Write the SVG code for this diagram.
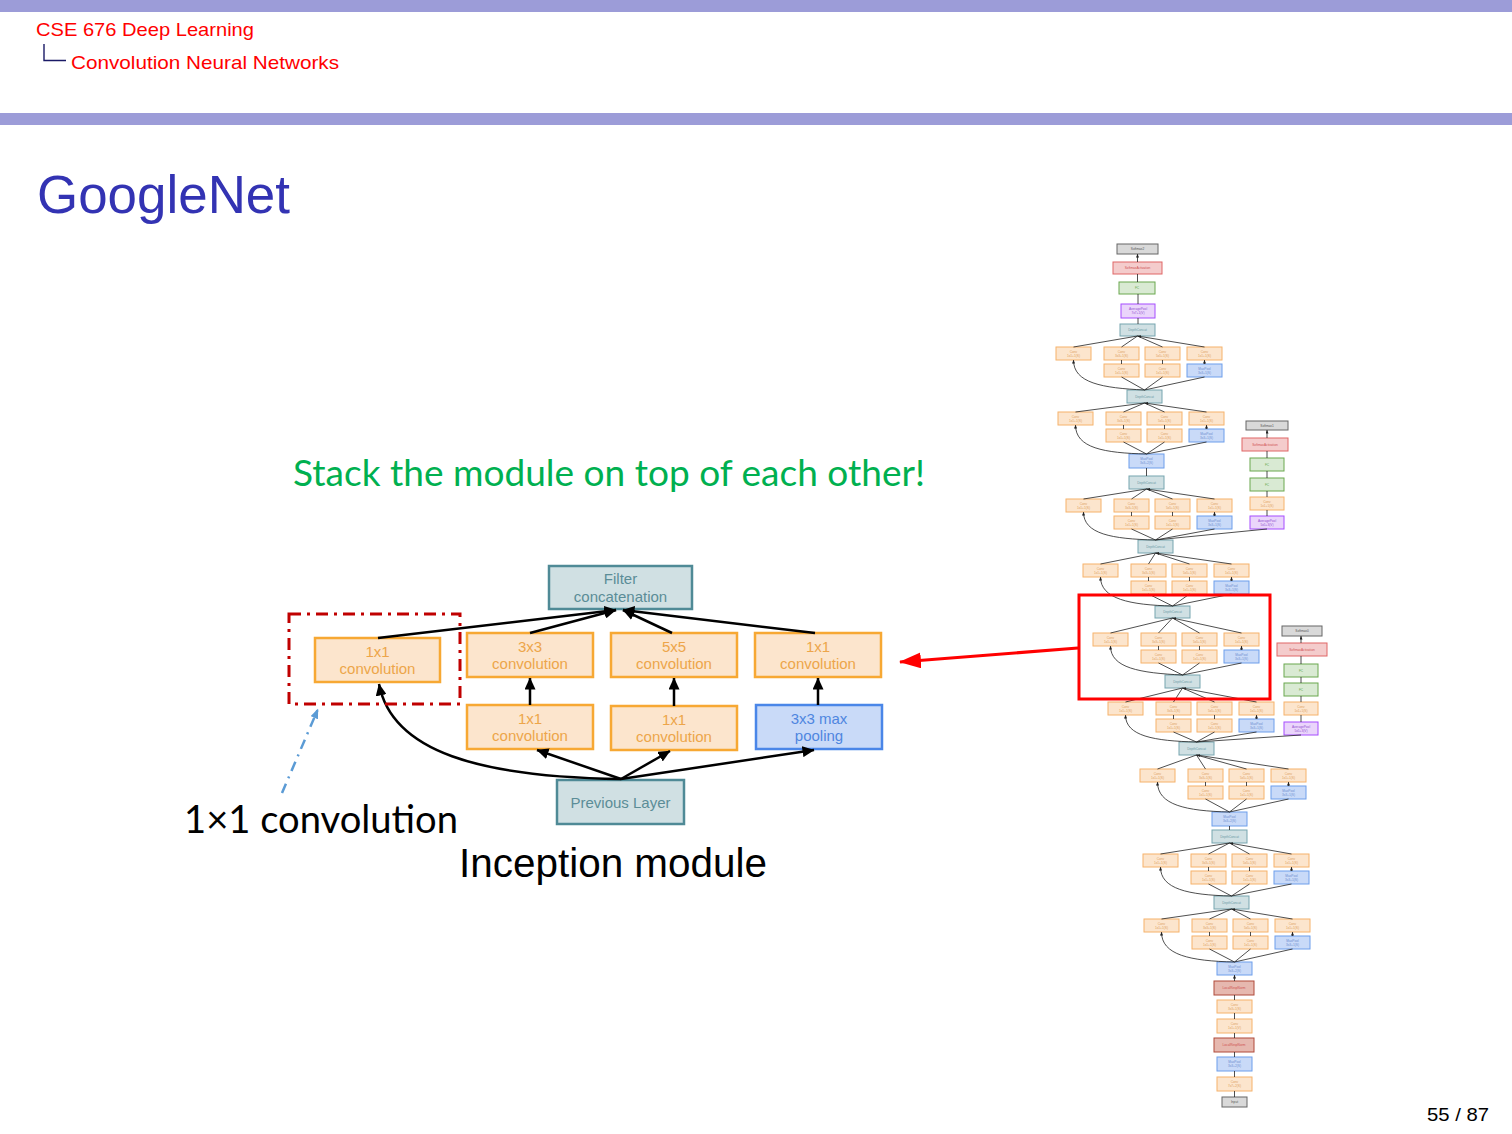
<svg xmlns="http://www.w3.org/2000/svg" xmlns:xlink="http://www.w3.org/1999/xlink" width="1512" height="1134" viewBox="0 0 1512 1134">
<style>
  .bar{fill:#9c9cd8}
  .hdr{font-family:"Liberation Sans","DejaVu Sans",sans-serif;font-size:19px;fill:#ff0000}
  .ttl{font-family:"Liberation Sans","DejaVu Sans",sans-serif;font-size:54px;fill:#3333b3}
  .cal{font-family:Lato,"Open Sans",sans-serif}
  .hel{font-family:"Liberation Sans",Arial,sans-serif}
  /* inception module (large) */
  .mo{fill:#fce5cd;stroke:#f7a833;stroke-width:2.5}
  .mb{fill:#c9daf8;stroke:#4a86e8;stroke-width:2.5}
  .mt{fill:#d0e0e3;stroke:#4f8a96;stroke-width:2.5}
  .ml{font-family:"Liberation Sans",Arial,sans-serif;font-size:15px;text-anchor:middle}
  .lo{fill:#eda54a}.lb{fill:#4f86e0}.lt{fill:#5b8d97}
  .con{fill:none;stroke:#000;stroke-width:2.5;marker-end:url(#ah)}
  /* full network (small) */
  .o{fill:#fce5cd;stroke:#f6b26b;stroke-width:1}
  .b{fill:#c9daf8;stroke:#6d9eeb;stroke-width:1}
  .t{fill:#d0e0e3;stroke:#76a5af;stroke-width:1}
  .r{fill:#f4cccc;stroke:#e06666;stroke-width:1}
  .n{fill:#e6b8af;stroke:#b04a3a;stroke-width:1}
  .g{fill:#d9ead3;stroke:#6aa84f;stroke-width:1}
  .p{fill:#ead5fb;stroke:#a64dff;stroke-width:1}
  .k{fill:#d9d9d9;stroke:#666;stroke-width:1}
  .tt{font-family:"Liberation Sans",Arial,sans-serif;font-size:3.2px;text-anchor:middle}
  .fo{fill:#e0a060}.fb{fill:#6d8fd0}.ft{fill:#6a9aa3}.fr{fill:#d05050}.fg{fill:#6aa84f}.fp{fill:#9050d0}.fk{fill:#555}
  .sc{fill:none;stroke:#222;stroke-width:0.8;marker-end:url(#as)}
</style>
<defs>
  <marker id="ah" viewBox="0 0 12 11" refX="11.5" refY="5.5" markerWidth="12" markerHeight="11" markerUnits="userSpaceOnUse" orient="auto">
    <path d="M0 0L12 5.5L0 11z" fill="#000"/>
  </marker>
  <marker id="ahb" viewBox="0 0 10 8" refX="9.5" refY="4" markerWidth="10" markerHeight="8" markerUnits="userSpaceOnUse" orient="auto">
    <path d="M0 0L10 4L0 8z" fill="#5b9bd5"/>
  </marker>
  <marker id="ahr" viewBox="0 0 22 16" refX="21" refY="8" markerWidth="22" markerHeight="16" markerUnits="userSpaceOnUse" orient="auto">
    <path d="M0 0L22 8L0 16z" fill="#ff0000"/>
  </marker>
  <marker id="as" viewBox="0 0 6 5" refX="6" refY="2.5" markerWidth="3.6" markerHeight="3" markerUnits="userSpaceOnUse" orient="auto">
    <path d="M0 0L6 2.5L0 5z" fill="#222"/>
  </marker>
  <!-- one inception block of the full network, origin at the top-left conv -->
  <g id="incep">
    <rect class="o" x="0" y="0" width="35" height="13"/>
    <text class="tt fo" x="17.5" y="5.5">Conv<tspan x="17.5" dy="4">1x1+1(S)</tspan></text>
    <rect class="o" x="48" y="0" width="35" height="13"/>
    <text class="tt fo" x="65.5" y="5.5">Conv<tspan x="65.5" dy="4">3x3+1(S)</tspan></text>
    <rect class="o" x="89" y="0" width="35" height="13"/>
    <text class="tt fo" x="106.5" y="5.5">Conv<tspan x="106.5" dy="4">5x5+1(S)</tspan></text>
    <rect class="o" x="131" y="0" width="35" height="13"/>
    <text class="tt fo" x="148.5" y="5.5">Conv<tspan x="148.5" dy="4">1x1+1(S)</tspan></text>
    <rect class="o" x="48" y="17" width="35" height="13"/>
    <text class="tt fo" x="65.5" y="22.5">Conv<tspan x="65.5" dy="4">1x1+1(S)</tspan></text>
    <rect class="o" x="89" y="17" width="35" height="13"/>
    <text class="tt fo" x="106.5" y="22.5">Conv<tspan x="106.5" dy="4">1x1+1(S)</tspan></text>
    <rect class="b" x="131" y="17" width="35" height="13"/>
    <text class="tt fb" x="148.5" y="22.5">MaxPool<tspan x="148.5" dy="4">3x3+1(S)</tspan></text>
    <path class="sc" d="M65.5 17V13M106.5 17V13M148.5 17V13"/>
  </g>
</defs>

<rect width="1512" height="1134" fill="#fff"/>

<!-- header -->
<rect class="bar" x="0" y="0" width="1512" height="12"/>
<rect class="bar" x="0" y="113" width="1512" height="12"/>
<text class="hdr" x="36" y="36" textLength="218" lengthAdjust="spacingAndGlyphs">CSE 676 Deep Learning</text>
<path d="M44 44V60.5H66" fill="none" stroke="#1a1a66" stroke-width="1.4"/>
<text class="hdr" x="71" y="69" textLength="268" lengthAdjust="spacingAndGlyphs">Convolution Neural Networks</text>

<text class="ttl" x="37" y="213" textLength="253" lengthAdjust="spacingAndGlyphs">GoogleNet</text>

<text class="cal" x="293" y="486" font-size="37" fill="#00b050" textLength="632" lengthAdjust="spacingAndGlyphs">Stack the module on top of each other!</text>

<!-- inception module -->
<g id="inception-module">
  <g id="filter-concat">
    <rect class="mt" x="549" y="566" width="143" height="43"/>
    <text class="ml lt" x="620.5" y="584">Filter</text>
    <text class="ml lt" x="620.5" y="602">concatenation</text>
  </g>
  <g id="conv1x1-a">
    <rect class="mo" x="315" y="638" width="125" height="44"/>
    <text class="ml lo" x="377.5" y="657">1x1</text>
    <text class="ml lo" x="377.5" y="674">convolution</text>
  </g>
  <g id="conv3x3">
    <rect class="mo" x="467" y="633" width="126" height="44"/>
    <text class="ml lo" x="530" y="652">3x3</text>
    <text class="ml lo" x="530" y="669">convolution</text>
  </g>
  <g id="conv5x5">
    <rect class="mo" x="611" y="633" width="126" height="44"/>
    <text class="ml lo" x="674" y="652">5x5</text>
    <text class="ml lo" x="674" y="669">convolution</text>
  </g>
  <g id="conv1x1-d">
    <rect class="mo" x="755" y="633" width="126" height="44"/>
    <text class="ml lo" x="818" y="652">1x1</text>
    <text class="ml lo" x="818" y="669">convolution</text>
  </g>
  <g id="conv1x1-b">
    <rect class="mo" x="467" y="705" width="126" height="44"/>
    <text class="ml lo" x="530" y="724">1x1</text>
    <text class="ml lo" x="530" y="741">convolution</text>
  </g>
  <g id="conv1x1-c">
    <rect class="mo" x="611" y="706" width="126" height="44"/>
    <text class="ml lo" x="674" y="725">1x1</text>
    <text class="ml lo" x="674" y="742">convolution</text>
  </g>
  <g id="maxpool">
    <rect class="mb" x="756" y="705" width="126" height="44"/>
    <text class="ml lb" x="819" y="724">3x3 max</text>
    <text class="ml lb" x="819" y="741">pooling</text>
  </g>
  <g id="previous-layer">
    <rect class="mt" x="557" y="780" width="127" height="44"/>
    <text class="ml lt" x="620.5" y="808">Previous Layer</text>
  </g>
  <g id="module-connectors">
    <path class="con" d="M378 638L616 610"/>
    <path class="con" d="M530 633L616 610"/>
    <path class="con" d="M672 633L623 610"/>
    <path class="con" d="M815 633L623 610"/>
    <path class="con" d="M530 705V678"/>
    <path class="con" d="M674 706V678"/>
    <path class="con" d="M818 705V678"/>
    <path class="con" d="M621 779L537 750"/>
    <path class="con" d="M621 779L670 751"/>
    <path class="con" d="M621 779L814 750"/>
    <path class="con" d="M621 779C480 777 392 752 379 684"/>
  </g>
</g>

<!-- highlight of the 1x1 branch -->
<rect x="289" y="614" width="171" height="90" fill="none" stroke="#c00000" stroke-width="3" stroke-dasharray="12 6 3 6"/>
<path d="M282 793L318 709" fill="none" stroke="#5b9bd5" stroke-width="2.5" stroke-dasharray="10 6 2 6" marker-end="url(#ahb)"/>
<text class="cal" x="184" y="833" font-size="38" fill="#000" textLength="274" lengthAdjust="spacingAndGlyphs">1×1 convolution</text>
<text class="hel" x="459" y="877" font-size="40" fill="#000" textLength="308" lengthAdjust="spacingAndGlyphs">Inception module</text>

<!-- full network -->
<g id="googlenet">
  <g id="n-input"><rect class="k" x="1222" y="1097" width="25" height="10"/><text class="tt fk" x="1234.5" y="1103">Input</text></g>
  <g id="n-conv1"><rect class="o" x="1217" y="1077" width="35" height="14"/><text class="tt fo" x="1234.5" y="1083">Conv<tspan x="1234.5" dy="4">7x7+2(S)</tspan></text></g>
  <g id="n-pool1"><rect class="b" x="1217" y="1057" width="35" height="14"/><text class="tt fb" x="1234.5" y="1063">MaxPool<tspan x="1234.5" dy="4">3x3+2(S)</tspan></text></g>
  <g id="n-lrn1"><rect class="n" x="1214" y="1038" width="40" height="14"/><text class="tt fr" x="1234" y="1046">LocalRespNorm</text></g>
  <g id="n-conv2r"><rect class="o" x="1217" y="1019" width="35" height="14"/><text class="tt fo" x="1234.5" y="1025">Conv<tspan x="1234.5" dy="4">1x1+1(V)</tspan></text></g>
  <g id="n-conv2"><rect class="o" x="1217" y="1000" width="35" height="13"/><text class="tt fo" x="1234.5" y="1005.5">Conv<tspan x="1234.5" dy="4">3x3+1(S)</tspan></text></g>
  <g id="n-lrn2"><rect class="n" x="1214" y="981" width="40" height="14"/><text class="tt fr" x="1234" y="989">LocalRespNorm</text></g>
  <g id="n-pool2"><rect class="b" x="1217" y="962" width="35" height="13"/><text class="tt fb" x="1234.5" y="967.5">MaxPool<tspan x="1234.5" dy="4">3x3+2(S)</tspan></text></g>

  <g id="n-inc3a"><use xlink:href="#incep" href="#incep" x="1144" y="919"/></g>
  <g id="n-dc3a"><rect class="t" x="1214" y="896" width="35" height="13"/><text class="tt ft" x="1231.5" y="903.5">DepthConcat</text></g>
  <g id="n-inc3b"><use xlink:href="#incep" href="#incep" x="1143" y="854"/></g>
  <g id="n-dc3b"><rect class="t" x="1212" y="830" width="35" height="13"/><text class="tt ft" x="1229.5" y="837.5">DepthConcat</text></g>
  <g id="n-pool3"><rect class="b" x="1212" y="812" width="35" height="14"/><text class="tt fb" x="1229.5" y="818">MaxPool<tspan x="1229.5" dy="4">3x3+2(S)</tspan></text></g>
  <g id="n-inc4a"><use xlink:href="#incep" href="#incep" x="1140" y="769"/></g>
  <g id="n-dc4a"><rect class="t" x="1179" y="742" width="35" height="13"/><text class="tt ft" x="1196.5" y="749.5">DepthConcat</text></g>
  <g id="n-inc4b"><use xlink:href="#incep" href="#incep" x="1108" y="702"/></g>
  <g id="n-dc4b"><rect class="t" x="1165" y="675" width="35" height="13"/><text class="tt ft" x="1182.5" y="682.5">DepthConcat</text></g>
  <g id="n-inc4c"><use xlink:href="#incep" href="#incep" x="1093" y="633"/></g>
  <g id="n-dc4c"><rect class="t" x="1155" y="606" width="35" height="12"/><text class="tt ft" x="1172.5" y="613">DepthConcat</text></g>
  <g id="n-inc4d"><use xlink:href="#incep" href="#incep" x="1083" y="564"/></g>
  <g id="n-dc4d"><rect class="t" x="1138" y="540" width="35" height="13"/><text class="tt ft" x="1155.5" y="547.5">DepthConcat</text></g>
  <g id="n-inc4e"><use xlink:href="#incep" href="#incep" x="1066" y="499"/></g>
  <g id="n-dc4e"><rect class="t" x="1129" y="476" width="35" height="13"/><text class="tt ft" x="1146.5" y="483.5">DepthConcat</text></g>
  <g id="n-pool4"><rect class="b" x="1129" y="454" width="35" height="14"/><text class="tt fb" x="1146.5" y="460">MaxPool<tspan x="1146.5" dy="4">3x3+2(S)</tspan></text></g>
  <g id="n-inc5a"><use xlink:href="#incep" href="#incep" x="1058" y="412"/></g>
  <g id="n-dc5a"><rect class="t" x="1127" y="390" width="35" height="13"/><text class="tt ft" x="1144.5" y="397.5">DepthConcat</text></g>
  <g id="n-inc5b"><use xlink:href="#incep" href="#incep" x="1056" y="347"/></g>
  <g id="n-dc5b"><rect class="t" x="1120" y="324" width="35" height="12"/><text class="tt ft" x="1137.5" y="331">DepthConcat</text></g>
  <g id="n-avgpool"><rect class="p" x="1121" y="304" width="34" height="14"/><text class="tt fp" x="1138" y="310">AveragePool<tspan x="1138" dy="4">7x7+1(V)</tspan></text></g>
  <g id="n-fc"><rect class="g" x="1119" y="282" width="36" height="12"/><text class="tt fg" x="1137" y="289">FC</text></g>
  <g id="n-smact"><rect class="r" x="1113" y="262" width="49" height="12"/><text class="tt fr" x="1137.5" y="269">SoftmaxActivation</text></g>
  <g id="n-softmax2"><rect class="k" x="1117" y="244" width="41" height="10"/><text class="tt fk" x="1137.5" y="250">Softmax2</text></g>

  <!-- auxiliary classifier on 4d output -->
  <g id="n-aux1-pool"><rect class="p" x="1250" y="516" width="34" height="13"/><text class="tt fp" x="1267" y="521.5">AveragePool<tspan x="1267" dy="4">5x5+3(V)</tspan></text></g>
  <g id="n-aux1-conv"><rect class="o" x="1250" y="497" width="34" height="13"/><text class="tt fo" x="1267" y="502.5">Conv<tspan x="1267" dy="4">1x1+1(S)</tspan></text></g>
  <g id="n-aux1-fc1"><rect class="g" x="1250" y="478" width="34" height="13"/><text class="tt fg" x="1267" y="485.5">FC</text></g>
  <g id="n-aux1-fc2"><rect class="g" x="1250" y="458" width="34" height="13"/><text class="tt fg" x="1267" y="465.5">FC</text></g>
  <g id="n-aux1-act"><rect class="r" x="1242" y="438" width="46" height="13"/><text class="tt fr" x="1265" y="445.5">SoftmaxActivation</text></g>
  <g id="n-softmax1"><rect class="k" x="1246" y="421" width="42" height="9"/><text class="tt fk" x="1267" y="426.5">Softmax1</text></g>

  <!-- auxiliary classifier on 4a output -->
  <g id="n-aux0-pool"><rect class="p" x="1284" y="722" width="34" height="13"/><text class="tt fp" x="1301" y="727.5">AveragePool<tspan x="1301" dy="4">5x5+3(V)</tspan></text></g>
  <g id="n-aux0-conv"><rect class="o" x="1284" y="702" width="34" height="13"/><text class="tt fo" x="1301" y="707.5">Conv<tspan x="1301" dy="4">1x1+1(S)</tspan></text></g>
  <g id="n-aux0-fc1"><rect class="g" x="1284" y="683" width="34" height="13"/><text class="tt fg" x="1301" y="690.5">FC</text></g>
  <g id="n-aux0-fc2"><rect class="g" x="1284" y="664" width="34" height="13"/><text class="tt fg" x="1301" y="671.5">FC</text></g>
  <g id="n-aux0-act"><rect class="r" x="1277" y="643" width="50" height="13"/><text class="tt fr" x="1302" y="650.5">SoftmaxActivation</text></g>
  <g id="n-softmax0"><rect class="k" x="1282" y="626" width="40" height="10"/><text class="tt fk" x="1302" y="632">Softmax0</text></g>

  <g id="net-connectors">
    <!-- stem and head -->
    <path class="sc" d="M1234.5 1097V1091M1234.5 1077V1071M1234.5 1057V1052M1234.5 1038V1033M1234.5 1019V1013M1234.5 1000V995M1234.5 981V975"/>
    <path class="sc" d="M1229.5 830V826M1146.5 476V468M1138 324V318M1138 304V294M1137.5 282V274M1137.5 262V254"/>
    <!-- 3a -->
    <path class="sc" d="M1161.5 919L1231.5 909M1209.5 919L1231.5 909M1250.5 919L1231.5 909M1292.5 919L1231.5 909"/>
    <path class="sc" d="M1234.5 962L1209.5 949M1234.5 962L1250.5 949M1234.5 962L1292.5 949M1234.5 962C1190 961 1161.5 955 1161.5 932"/>
    <!-- 3b -->
    <path class="sc" d="M1160.5 854L1229.5 843M1208.5 854L1229.5 843M1249.5 854L1229.5 843M1291.5 854L1229.5 843"/>
    <path class="sc" d="M1231.5 896L1208.5 884M1231.5 896L1249.5 884M1231.5 896L1291.5 884M1231.5 896C1188 895 1160.5 889 1160.5 867"/>
    <!-- 4a -->
    <path class="sc" d="M1157.5 769L1196.5 755M1205.5 769L1196.5 755M1246.5 769L1196.5 755M1288.5 769L1196.5 755"/>
    <path class="sc" d="M1229.5 812L1205.5 799M1229.5 812L1246.5 799M1229.5 812L1288.5 799M1229.5 812C1186 811 1157.5 805 1157.5 782"/>
    <!-- 4b -->
    <path class="sc" d="M1125.5 702L1182.5 688M1173.5 702L1182.5 688M1214.5 702L1182.5 688M1256.5 702L1182.5 688"/>
    <path class="sc" d="M1196.5 742L1173.5 732M1196.5 742L1214.5 732M1196.5 742L1256.5 732M1196.5 742C1154 741 1125.5 736 1125.5 715"/>
    <!-- 4c -->
    <path class="sc" d="M1110.5 633L1172.5 618M1158.5 633L1172.5 618M1199.5 633L1172.5 618M1241.5 633L1172.5 618"/>
    <path class="sc" d="M1182.5 675L1158.5 663M1182.5 675L1199.5 663M1182.5 675L1241.5 663M1182.5 675C1140 673 1110.5 668 1110.5 646"/>
    <!-- 4d -->
    <path class="sc" d="M1100.5 564L1155.5 553M1148.5 564L1155.5 553M1189.5 564L1155.5 553M1231.5 564L1155.5 553"/>
    <path class="sc" d="M1172.5 606L1148.5 594M1172.5 606L1189.5 594M1172.5 606L1231.5 594M1172.5 606C1130 605 1100.5 599 1100.5 577"/>
    <!-- 4e -->
    <path class="sc" d="M1083.5 499L1146.5 489M1131.5 499L1146.5 489M1172.5 499L1146.5 489M1214.5 499L1146.5 489"/>
    <path class="sc" d="M1155.5 540L1131.5 529M1155.5 540L1172.5 529M1155.5 540L1214.5 529M1155.5 540C1112 539 1083.5 534 1083.5 512"/>
    <!-- 5a -->
    <path class="sc" d="M1075.5 412L1144.5 403M1123.5 412L1144.5 403M1164.5 412L1144.5 403M1206.5 412L1144.5 403"/>
    <path class="sc" d="M1146.5 454L1123.5 442M1146.5 454L1164.5 442M1146.5 454L1206.5 442M1146.5 454C1104 453 1075.5 448 1075.5 425"/>
    <!-- 5b -->
    <path class="sc" d="M1073.5 347L1137.5 336M1121.5 347L1137.5 336M1162.5 347L1137.5 336M1204.5 347L1137.5 336"/>
    <path class="sc" d="M1144.5 390L1121.5 377M1144.5 390L1162.5 377M1144.5 390L1204.5 377M1144.5 390C1102 388 1073.5 383 1073.5 360"/>
    <!-- auxiliary branches -->
    <path class="sc" d="M1155.5 540L1267 529M1267 516V510M1267 497V491M1267 478V471M1267 458V451M1267 438V430"/>
    <path class="sc" d="M1196.5 742L1301 735M1301 722V715M1301 702V696M1301 683V677M1301 664V656M1301 643V636"/>
  </g>
</g>

<!-- callout linking the module to its place in the network -->
<rect x="1079" y="595" width="191" height="104" fill="none" stroke="#ff0000" stroke-width="3"/>
<path d="M1078 648L900 662" fill="none" stroke="#ff0000" stroke-width="3" marker-end="url(#ahr)"/>

<text class="hel" x="1427" y="1121" font-size="19" fill="#000" textLength="62" lengthAdjust="spacingAndGlyphs">55 / 87</text>
</svg>
